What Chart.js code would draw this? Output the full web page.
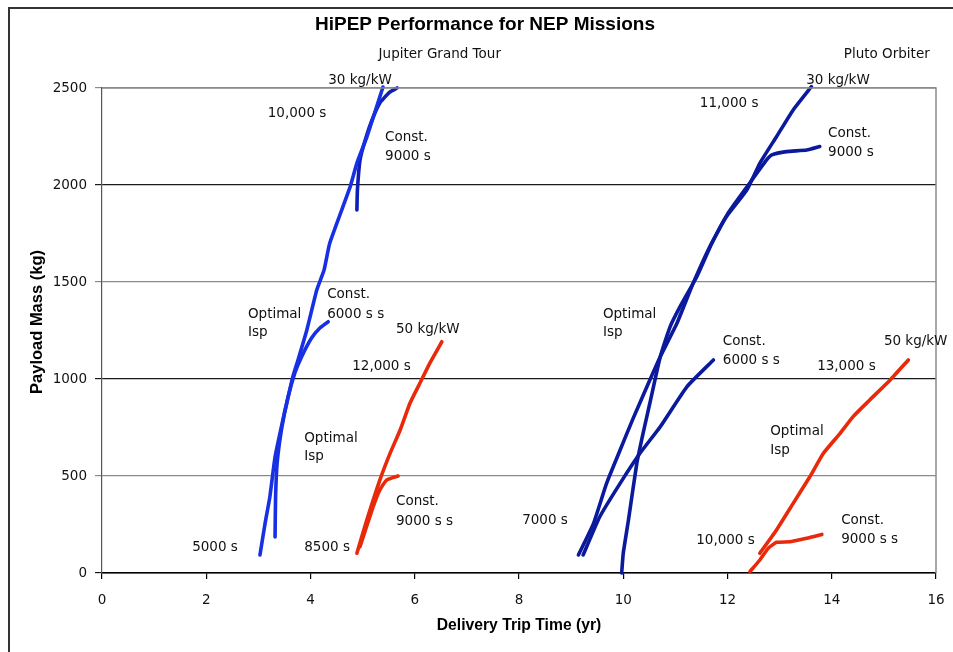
<!DOCTYPE html>
<html>
<head>
<meta charset="utf-8">
<script src="https://cdn.jsdelivr.net/npm/chart.js@4.4.1/dist/chart.umd.min.js"></script>
<style>
  html, body { margin: 0; padding: 0; background: #fff; }
  #wrap { width: 953px; height: 652px; position: relative; }
</style>
</head>
<body>
<div id="wrap"><canvas id="c" width="953" height="652"></canvas></div>
<script>
// ---- Data (x = delivery trip time in yr, y = payload mass in kg) ----
const xTicks = [0, 2, 4, 6, 8, 10, 12, 14, 16];
const yTicks = [0, 500, 1000, 1500, 2000, 2500];

// Jupiter Grand Tour
const jupOptimal30 = [[3.03,93],[3.13,258],[3.22,392],[3.32,598],[3.47,789],[3.57,907],[3.66,1010],[3.76,1098],[3.93,1253],[4.12,1459],[4.26,1562],[4.37,1701],[4.76,1990],[4.89,2113],[5.08,2247],[5.33,2454],[5.39,2505]];
const jupConst6000 = [[3.32,186],[3.33,392],[3.36,567],[3.45,750],[3.57,907],[3.70,1031],[3.83,1115],[4.02,1211],[4.18,1263],[4.34,1295]];
const jupConst9000 = [[4.89,1871],[4.90,1974],[4.95,2129],[5.05,2232],[5.18,2335],[5.33,2423],[5.52,2479],[5.66,2500]];
const jupOptimal50 = [[4.89,102],[5.08,273],[5.33,479],[5.53,619],[5.72,737],[5.91,876],[6.10,979],[6.29,1082],[6.52,1192]];
const jupConst9000r = [[4.95,136],[5.20,340],[5.33,428],[5.46,479],[5.68,500]];

// Pluto Orbiter
const pluOptimal30 = [[9.14,93],[9.43,256],[9.68,462],[9.94,634],[10.19,797],[10.51,995],[10.71,1115],[11.03,1287],[11.34,1493],[11.66,1682],[11.98,1837],[12.37,1974],[12.62,2112],[12.94,2249],[13.26,2387],[13.61,2507]];
const pluConst6000 = [[9.23,93],[9.55,290],[9.94,462],[10.32,617],[10.71,754],[11.22,960],[11.73,1098]];
const pluConst9000 = [[9.97,0],[10.00,102],[10.10,273],[10.26,565],[10.38,720],[10.51,875],[10.71,1115],[10.90,1270],[11.09,1373],[11.41,1527],[11.70,1700],[12.00,1850],[12.40,2000],[12.75,2129],[12.85,2155],[13.13,2172],[13.52,2180],[13.77,2198]];
const pluOptimal50 = [[12.62,102],[12.94,222],[13.26,359],[13.58,496],[13.84,617],[14.16,720],[14.41,806],[14.73,892],[15.12,995],[15.47,1098]];
const pluConst9000r = [[12.43,7],[12.62,67],[12.78,127],[12.94,158],[13.20,161],[13.52,179],[13.81,199]];

// Text labels: [text, x, y, align]
const noteLabels = [
  ["Jupiter Grand Tour", 6.48, 2675, "center"],
  ["Pluto Orbiter", 15.88, 2675, "right"],
  ["30 kg/kW", 4.34, 2541, "left"],
  ["10,000 s", 3.18, 2366, "left"],
  ["Const.", 5.43, 2247, "left"],
  ["9000 s", 5.43, 2149, "left"],
  ["30 kg/kW", 13.51, 2541, "left"],
  ["11,000 s", 11.47, 2418, "left"],
  ["Const.", 13.93, 2268, "left"],
  ["9000 s", 13.93, 2165, "left"],
  ["Optimal", 2.80, 1335, "left"],
  ["Isp", 2.80, 1242, "left"],
  ["Const.", 4.32, 1433, "left"],
  ["6000 s s", 4.32, 1330, "left"],
  ["50 kg/kW", 5.64, 1253, "left"],
  ["12,000 s", 4.80, 1062, "left"],
  ["Optimal", 3.88, 691, "left"],
  ["Isp", 3.88, 598, "left"],
  ["Const.", 5.64, 366, "left"],
  ["9000 s s", 5.64, 268, "left"],
  ["5000 s", 1.73, 129, "left"],
  ["8500 s", 3.88, 129, "left"],
  ["Optimal", 9.61, 1335, "left"],
  ["Isp", 9.61, 1242, "left"],
  ["Const.", 11.91, 1191, "left"],
  ["6000 s s", 11.91, 1093, "left"],
  ["50 kg/kW", 15.00, 1191, "left"],
  ["13,000 s", 13.72, 1062, "left"],
  ["Optimal", 12.82, 727, "left"],
  ["Isp", 12.82, 629, "left"],
  ["Const.", 14.18, 273, "left"],
  ["9000 s s", 14.18, 175, "left"],
  ["10,000 s", 11.40, 165, "left"],
  ["7000 s", 8.06, 273, "left"]
];

const BLUE = "#1830e4";
const BLUE_D = "#0e1fb8";
const NAVY = "#0b1a9c";
const RED = "#e8290a";

function toXY(arr) { return arr.map(p => ({x: p[0], y: p[1]})); }
function ds(label, arr, color) {
  return { label, data: toXY(arr), borderColor: color, backgroundColor: color,
           showLine: true, pointRadius: 0, borderWidth: 3.6, tension: 0.15,
           borderCapStyle: "round", borderJoinStyle: "round", fill: false, clip: false };
}

const FONT = "'DejaVu Sans', sans-serif";

const decor = {
  id: "decor",
  beforeDraw(chart) {
    const ctx = chart.ctx;
    ctx.save();
    ctx.fillStyle = "#fff";
    ctx.fillRect(0, 0, chart.width, chart.height);
    ctx.strokeStyle = "#333";
    ctx.lineWidth = 2;
    ctx.beginPath();
    ctx.moveTo(9, 660); ctx.lineTo(9, 8); ctx.lineTo(960, 8);
    ctx.stroke();
    ctx.restore();
  },
  afterDatasetsDraw(chart) {
    const ctx = chart.ctx, a = chart.chartArea;
    const xs = chart.scales.x, ys = chart.scales.y;
    ctx.save();
    // plot frame top / right
    ctx.strokeStyle = "#8c8c8c";
    ctx.lineWidth = 1.5;
    ctx.beginPath();
    ctx.moveTo(a.left, a.top); ctx.lineTo(a.right, a.top); ctx.lineTo(a.right, a.bottom);
    ctx.stroke();
    // title
    ctx.fillStyle = "#000";
    ctx.textBaseline = "middle";
    ctx.textAlign = "center";
    ctx.font = "bold 19px 'Liberation Sans', Arial, sans-serif";
    ctx.fillText("HiPEP Performance for NEP Missions", 485, 25);
    // axis titles
    ctx.font = "bold 15.7px 'Liberation Sans', Arial, sans-serif";
    ctx.fillText("Delivery Trip Time (yr)", 519, 626);
    ctx.save();
    ctx.translate(37, 322);
    ctx.rotate(-Math.PI / 2);
    ctx.font = "bold 16.5px 'Liberation Sans', Arial, sans-serif";
    ctx.fillText("Payload Mass (kg)", 0, 0);
    ctx.restore();
    // notes
    ctx.font = "13.5px " + FONT;
    ctx.fillStyle = "#111";
    for (const [t, x, y, al] of noteLabels) {
      ctx.textAlign = al;
      ctx.fillText(t, xs.getPixelForValue(x), ys.getPixelForValue(y));
    }
    ctx.restore();
  }
};

new Chart(document.getElementById("c"), {
  type: "scatter",
  data: {
    datasets: [
      ds("Jupiter Optimal Isp 30 kg/kW", jupOptimal30, BLUE),
      ds("Jupiter Const 6000 s", jupConst6000, BLUE),
      ds("Jupiter Const 9000 s", jupConst9000, BLUE_D),
      ds("Jupiter Optimal Isp 50 kg/kW", jupOptimal50, RED),
      ds("Jupiter Const 9000 s 50 kg/kW", jupConst9000r, RED),
      ds("Pluto Optimal Isp 30 kg/kW", pluOptimal30, NAVY),
      ds("Pluto Const 6000 s", pluConst6000, NAVY),
      ds("Pluto Const 9000 s", pluConst9000, NAVY),
      ds("Pluto Optimal Isp 50 kg/kW", pluOptimal50, RED),
      ds("Pluto Const 9000 s 50 kg/kW", pluConst9000r, RED)
    ]
  },
  options: {
    responsive: false,
    animation: false,
    layout: { padding: { top: 88, right: 17, left: 0, bottom: 0 } },
    plugins: { legend: { display: false }, tooltip: { enabled: false }, title: { display: false } },
    scales: {
      x: {
        type: "linear", min: 0, max: 16,
        afterBuildTicks(s) { s.ticks = xTicks.map(v => ({ value: v })); },
        afterFit(s) { s.height = 79; s.paddingLeft = 0; s.paddingRight = 0; },
        ticks: { color: "#111", font: { family: FONT, size: 13.5 }, padding: 13, maxRotation: 0,
                 callback: v => String(v) },
        grid: { drawOnChartArea: false, drawTicks: true, tickLength: 6, color: "#000", lineWidth: 1.2 },
        border: { color: "#000", width: 1.5 }
      },
      y: {
        type: "linear", min: 0, max: 2500,
        afterBuildTicks(s) { s.ticks = yTicks.map(v => ({ value: v })); },
        afterFit(s) { s.width = 102; s.paddingTop = 0; s.paddingBottom = 0; },
        ticks: { color: "#111", font: { family: FONT, size: 13.5 }, padding: 8,
                 callback: v => String(v) },
        grid: {
          drawOnChartArea: true, drawTicks: true, tickLength: 7, lineWidth: 1.2,
          color(c) { const v = c.tick && c.tick.value; return (v === 1000 || v === 2000 || v === 0) ? "#1a1a1a" : "#8a8a8a"; }
        },
        border: { color: "#555", width: 1.2 }
      }
    }
  },
  plugins: [decor]
});
</script>
</body>
</html>
